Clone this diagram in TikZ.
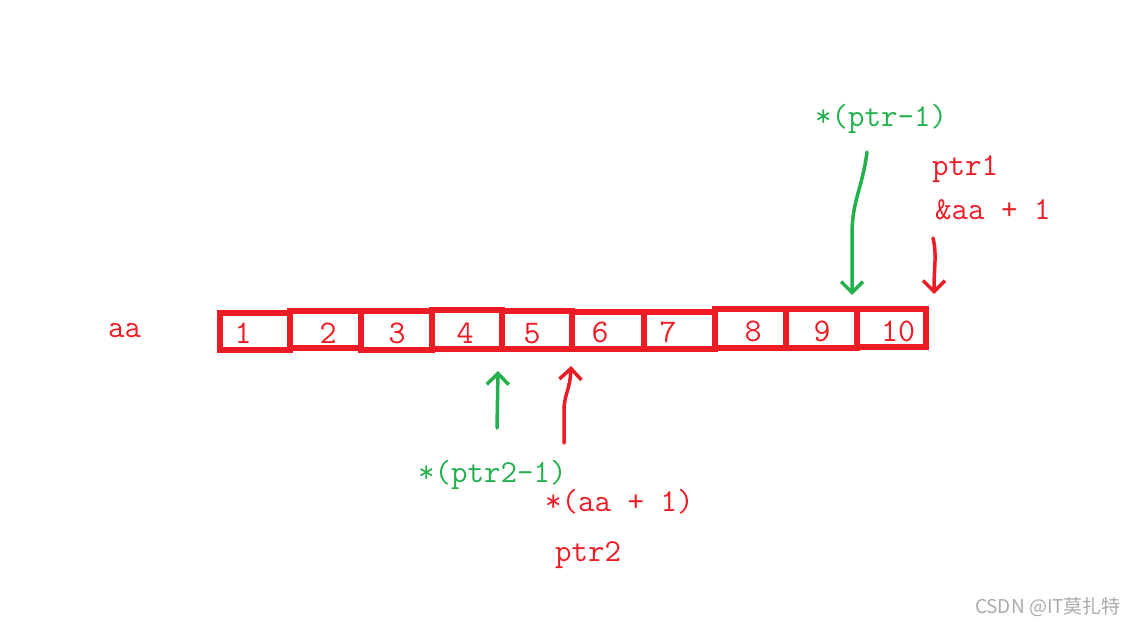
\documentclass[tikz,border=0pt]{standalone}
\usepackage{fontspec}
\newfontfamily\cjkfont{Noto Sans CJK SC}
\usetikzlibrary{arrows.meta}
\definecolor{pred}{RGB}{237,28,36}
\definecolor{pgreen}{RGB}{34,177,76}
\definecolor{wmgray}{RGB}{170,170,170}
\tikzset{
  cell/.style={draw=pred, line width=5.5pt, inner sep=0pt},
  txt/.style={anchor=base west, inner sep=0pt, font=\ttfamily\fontsize{32}{38}\selectfont},
  num/.style={anchor=base, inner sep=0pt, text=pred, font=\ttfamily\fontsize{33}{38}\selectfont},
  harrow/.style={line width=3.5pt, line cap=round, line join=round,
    -{Straight Barb[length=11pt,width=22pt,line width=3.5pt]}},
}
\begin{document}
\begin{tikzpicture}[x=1pt,y=-1pt]
\useasboundingbox (0,0) rectangle (1137,625);
% cells
\node[cell, minimum width=70pt, minimum height=37pt] (b1) at (255,331.5) {};
\node[cell, minimum width=71pt, minimum height=37pt] (b2) at (325.5,329.5) {};
\node[cell, minimum width=71pt, minimum height=39pt] (b3) at (396.5,330.5) {};
\node[cell, minimum width=70pt, minimum height=39pt] (b4) at (467,329.5) {};
\node[cell, minimum width=70pt, minimum height=38pt] (b5) at (537,330) {};
\node[cell, minimum width=72pt, minimum height=37pt] (b6) at (608,330.5) {};
\node[cell, minimum width=71pt, minimum height=37pt] (b7) at (679.5,330.5) {};
\node[cell, minimum width=71pt, minimum height=39pt] (b8) at (750.5,328.5) {};
\node[cell, minimum width=71pt, minimum height=39pt] (b9) at (821.5,328.5) {};
\node[cell, minimum width=69pt, minimum height=38pt] (b10) at (891.5,328) {};
% numbers
\node[num] (n1) at (243,343) {1};
\node[num] (n2) at (328,343) {2};
\node[num] (n3) at (397,343) {3};
\node[num] (n4) at (465,343) {4};
\node[num] (n5) at (532,343) {5};
\node[num] (n6) at (600,342) {6};
\node[num] (n7) at (668,342) {7};
\node[num] (n8) at (753,341) {8};
\node[num] (n9) at (822,341) {9};
\node[num] (n10) at (898,341) {10};
% labels
\node[txt, text=pred] (aa) at (108,337) {aa};
\node[txt, text=pgreen] (lp1) at (815,126) {*(ptr-1)};
\node[txt, text=pred] (ptr1) at (932,175) {ptr1};
\node[txt, text=pred] (aap1) at (935,219) {\&aa + 1};
\node[txt, text=pgreen] (lp2) at (418,482) {*(ptr2-1)};
\node[txt, text=pred] (saa) at (545,511) {*(aa + 1)};
\node[txt, text=pred] (ptr2) at (555,561) {ptr2};
\node[anchor=center, inner sep=0pt, text=wmgray, font=\cjkfont\fontsize{19}{22}\selectfont] (wm) at (1048,607) {CSDN @IT莫扎特};
% arrow endpoints
\coordinate (g1s) at (867,152);
\coordinate (g1e) at (852,295);
\coordinate (r1s) at (933,238);
\coordinate (r1e) at (934,294);
\coordinate (g2s) at (497,428);
\coordinate (g2e) at (498,371);
\coordinate (r2s) at (564,443);
\coordinate (r2e) at (571,366);
% arrows
\draw[harrow, draw=pgreen] (g1s) .. controls (862,190) and (852,200) .. (852,235) -- (g1e);
\draw[harrow, draw=pred] (r1s) .. controls (937,255) and (934,265) .. (r1e);
\draw[harrow, draw=pgreen] (g2s) -- (g2e);
\draw[harrow, draw=pred] (r2s) -- (564,410) .. controls (564,395) and (570,390) .. (r2e);
\end{tikzpicture}
\end{document}
